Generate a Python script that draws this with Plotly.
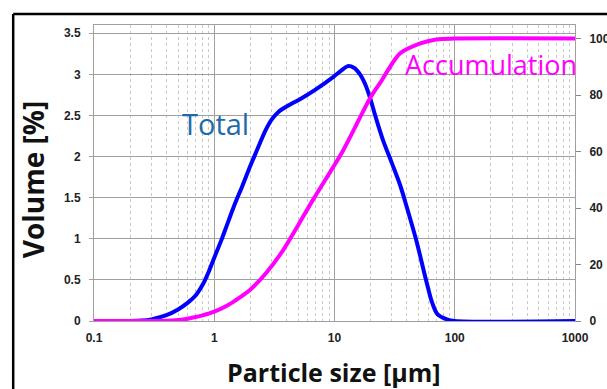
import plotly.graph_objects as go

# Particle size (µm) and volume (%) for the "Total" curve
total_size = [0.1, 0.2, 0.25, 0.3, 0.4, 0.5, 0.6, 0.7, 0.8, 0.9, 1.0, 1.15, 1.3, 1.5, 1.7, 2.0,
              2.3, 2.65, 3.0, 3.4, 3.9, 4.5, 5.2, 7.2, 9.8, 11.5, 12.9, 14.5, 16.3, 18.0, 19.7,
              22.0, 25.3, 30, 35, 40, 48.5, 55, 60, 65, 72, 86, 100, 1000]
total_vol = [0, 0, 0.005, 0.02, 0.07, 0.14, 0.22, 0.31, 0.44, 0.6, 0.77, 0.99, 1.2, 1.44, 1.63,
             1.89, 2.1, 2.31, 2.45, 2.54, 2.6, 2.65, 2.7, 2.83, 2.97, 3.05, 3.10, 3.08, 3.0, 2.88,
             2.72, 2.48, 2.2, 1.92, 1.66, 1.38, 0.95, 0.62, 0.4, 0.22, 0.08, 0.02, 0, 0]

# Cumulative (%) curve
acc_size = [0.1, 0.3, 0.4, 0.5, 0.6, 0.7, 0.8, 1.0, 1.25, 1.5, 1.98, 2.7, 3.73, 5.0, 6.6, 11.8,
            15.0, 19.7, 25.0, 28.0, 35, 51, 70, 100, 1000]
acc_val = [0, 0, 0.1, 0.35, 0.8, 1.4, 2.0, 3.3, 5.2, 7.3, 11.0, 17.0, 25.0, 34.0, 42.8, 60.4,
           69.0, 78.8, 85.5, 89.0, 94.7, 98.2, 99.7, 100, 100]

x_ticks = [0.1, 1, 10, 100, 1000]
x_tick_text = ["0.1", "1", "10", "100", "1000"]
y_ticks = [0, 0.5, 1, 1.5, 2, 2.5, 3, 3.5]
y2_ticks = [0, 20, 40, 60, 80, 100]

fig = go.Figure()
fig.add_trace(go.Scatter(x=total_size, y=total_vol, mode="lines",
                         line=dict(color="#0000ff", width=4, shape="spline", smoothing=0.9),
                         showlegend=False, yaxis="y"))
fig.add_trace(go.Scatter(x=acc_size, y=acc_val, mode="lines",
                         line=dict(color="#ff00ff", width=4, shape="spline", smoothing=0.8),
                         showlegend=False, yaxis="y2"))

tickfont = dict(family="Liberation Sans, Arial", size=12, color="#222222", weight="bold")
major_grid = "#a0a0a0"

fig.update_layout(
    width=607, height=389,
    margin=dict(l=94, r=32, t=25, b=68),
    paper_bgcolor="white", plot_bgcolor="white",
    xaxis=dict(type="log", range=[-1, 3], tickvals=x_ticks, ticktext=x_tick_text,
               tickfont=tickfont, showgrid=True, gridcolor=major_grid, gridwidth=1,
               showline=True, mirror=True, linecolor=major_grid, linewidth=1,
               ticks="", zeroline=False, automargin=False, ticklabelstandoff=6,
               minor=dict(dtick="D1", showgrid=True, gridcolor="#c8c8c8", griddash="3px,3px",
                          gridwidth=1, ticks="")),
    yaxis=dict(range=[0, 3.6], tickvals=y_ticks, ticktext=[str(v) for v in y_ticks],
               tickfont=tickfont, showgrid=True, gridcolor=major_grid, gridwidth=1,
               showline=True, mirror=True, linecolor=major_grid, linewidth=1,
               ticks="outside", ticklen=4, tickcolor=major_grid, zeroline=False,
               automargin=False, ticklabelstandoff=6),
    yaxis2=dict(range=[0, 104.8], overlaying="y", side="right", tickvals=y2_ticks,
                tickfont=tickfont, showgrid=False, zeroline=False, automargin=False,
                ticks="outside", ticklen=5, tickcolor="#888888", ticklabelstandoff=6),
    annotations=[
        dict(text="<b>Particle size [µm]</b>", xref="paper", yref="paper", x=0.499, y=-0.172,
             xanchor="center", yanchor="middle", showarrow=False,
             font=dict(family="Open Sans", size=25, color="#111111")),
        dict(text="<b>Volume [%]</b>", xref="paper", yref="paper", x=-0.126, y=0.48,
             xanchor="center", yanchor="middle", showarrow=False, textangle=-90,
             font=dict(family="Open Sans", size=28, color="#111111")),
        dict(text="Total", xref="paper", yref="paper", x=0.178, y=0.668,
             xanchor="left", yanchor="middle", showarrow=False,
             font=dict(family="Open Sans", size=29, color="#1f6aa8")),
        dict(text="Accumulation", xref="paper", yref="paper", x=0.642, y=0.866,
             xanchor="left", yanchor="middle", showarrow=False,
             font=dict(family="Open Sans", size=27, color="#ff00ff")),
    ],
    shapes=[
        dict(type="line", xref="paper", yref="paper", x0=-0.168, x1=1.1, y0=1.037, y1=1.037,
             line=dict(color="black", width=2.5)),
        dict(type="line", xref="paper", yref="paper", x0=-0.168, x1=-0.168, y0=1.037, y1=-0.3,
             line=dict(color="black", width=2.5)),
    ],
)

fig.write_html("out.html", config={"displayModeBar": False},
               post_script="document.body.style.margin='0';")
